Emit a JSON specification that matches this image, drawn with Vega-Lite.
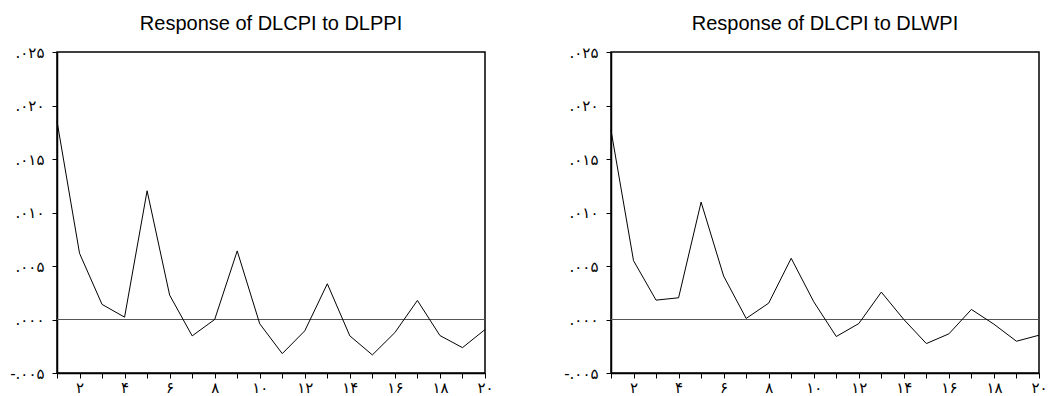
{
  "$schema": "https://vega.github.io/schema/vega-lite/v6.json",
  "background": "white",
  "padding": {"left": 8, "top": 13, "right": 5, "bottom": 0},
  "config": {
    "view": {"stroke": "black", "strokeWidth": 1.5},
    "title": {"font": "Liberation Sans", "fontSize": 20, "fontWeight": "normal", "color": "black", "anchor": "middle", "offset": 11},
    "axis": {"grid": false, "title": null, "labelFont": "DejaVu Sans", "labelFontSize": 15, "labelColor": "black", "tickColor": "black", "tickSize": 5, "tickWidth": 1, "domainColor": "black", "domainWidth": 1.5}
  },
  "datasets": {
    "ppi": [
      {"step": 1, "value": 0.01853}, {"step": 2, "value": 0.00619}, {"step": 3, "value": 0.00141}, {"step": 4, "value": 0.00022},
      {"step": 5, "value": 0.01203}, {"step": 6, "value": 0.00228}, {"step": 7, "value": -0.00153}, {"step": 8, "value": 0.0},
      {"step": 9, "value": 0.00641}, {"step": 10, "value": -0.0004}, {"step": 11, "value": -0.00319}, {"step": 12, "value": -0.00106},
      {"step": 13, "value": 0.00334}, {"step": 14, "value": -0.00153}, {"step": 15, "value": -0.00331}, {"step": 16, "value": -0.00122},
      {"step": 17, "value": 0.00178}, {"step": 18, "value": -0.0015}, {"step": 19, "value": -0.00263}, {"step": 20, "value": -0.00094}
    ],
    "wpi": [
      {"step": 1, "value": 0.01769}, {"step": 2, "value": 0.0055}, {"step": 3, "value": 0.00181}, {"step": 4, "value": 0.00203},
      {"step": 5, "value": 0.01097}, {"step": 6, "value": 0.00406}, {"step": 7, "value": 0.0001}, {"step": 8, "value": 0.00153},
      {"step": 9, "value": 0.00572}, {"step": 10, "value": 0.00166}, {"step": 11, "value": -0.00159}, {"step": 12, "value": -0.00038},
      {"step": 13, "value": 0.00256}, {"step": 14, "value": 0.0}, {"step": 15, "value": -0.00225}, {"step": 16, "value": -0.00134},
      {"step": 17, "value": 0.00094}, {"step": 18, "value": -0.00044}, {"step": 19, "value": -0.00203}, {"step": 20, "value": -0.00147}
    ]
  },
  "spacing": 68,
  "hconcat": [
    {
      "width": 428,
      "height": 321,
      "title": "Response of DLCPI to DLPPI",
      "data": {"name": "ppi"},
      "layer": [
        {
          "mark": {"type": "rule", "color": "#555", "strokeWidth": 1},
          "encoding": {"y": {"datum": 0, "type": "quantitative"}}
        },
        {
          "mark": {"type": "line", "color": "black", "strokeWidth": 1},
          "encoding": {
            "x": {"field": "step", "type": "quantitative", "scale": {"domain": [1, 20], "nice": false, "zero": false},
              "axis": {"values": [1,2,3,4,5,6,7,8,9,10,11,12,13,14,15,16,17,18,19,20], "labelPadding": 2, "labelFlush": false, "labelOverlap": false,
                "labelExpr": "datum.value % 2 == 0 ? replace(replace(replace(replace(replace(replace(datum.label, regexp('0','g'), '۰'), regexp('1','g'), '۱'), regexp('2','g'), '۲'), regexp('4','g'), '۴'), regexp('6','g'), '۶'), regexp('8','g'), '۸') : ''"}},
            "y": {"field": "value", "type": "quantitative", "scale": {"domain": [-0.005, 0.025], "nice": false, "zero": false},
              "axis": {"values": [-0.005, 0, 0.005, 0.01, 0.015, 0.02, 0.025], "labelPadding": 8, "labelFlush": false, "labelOverlap": false,
                "labelExpr": "replace(replace(replace(replace(replace(replace(format(datum.value, '.3f'), '0.', '.'), '−', '-'), regexp('0','g'), '۰'), regexp('1','g'), '۱'), regexp('2','g'), '۲'), regexp('5','g'), '۵')"}}
          }
        }
      ]
    },
    {
      "width": 428,
      "height": 321,
      "title": "Response of DLCPI to DLWPI",
      "data": {"name": "wpi"},
      "layer": [
        {
          "mark": {"type": "rule", "color": "#555", "strokeWidth": 1},
          "encoding": {"y": {"datum": 0, "type": "quantitative"}}
        },
        {
          "mark": {"type": "line", "color": "black", "strokeWidth": 1},
          "encoding": {
            "x": {"field": "step", "type": "quantitative", "scale": {"domain": [1, 20], "nice": false, "zero": false},
              "axis": {"values": [1,2,3,4,5,6,7,8,9,10,11,12,13,14,15,16,17,18,19,20], "labelPadding": 2, "labelFlush": false, "labelOverlap": false,
                "labelExpr": "datum.value % 2 == 0 ? replace(replace(replace(replace(replace(replace(datum.label, regexp('0','g'), '۰'), regexp('1','g'), '۱'), regexp('2','g'), '۲'), regexp('4','g'), '۴'), regexp('6','g'), '۶'), regexp('8','g'), '۸') : ''"}},
            "y": {"field": "value", "type": "quantitative", "scale": {"domain": [-0.005, 0.025], "nice": false, "zero": false},
              "axis": {"values": [-0.005, 0, 0.005, 0.01, 0.015, 0.02, 0.025], "labelPadding": 8, "labelFlush": false, "labelOverlap": false,
                "labelExpr": "replace(replace(replace(replace(replace(replace(format(datum.value, '.3f'), '0.', '.'), '−', '-'), regexp('0','g'), '۰'), regexp('1','g'), '۱'), regexp('2','g'), '۲'), regexp('5','g'), '۵')"}}
          }
        }
      ]
    }
  ]
}
